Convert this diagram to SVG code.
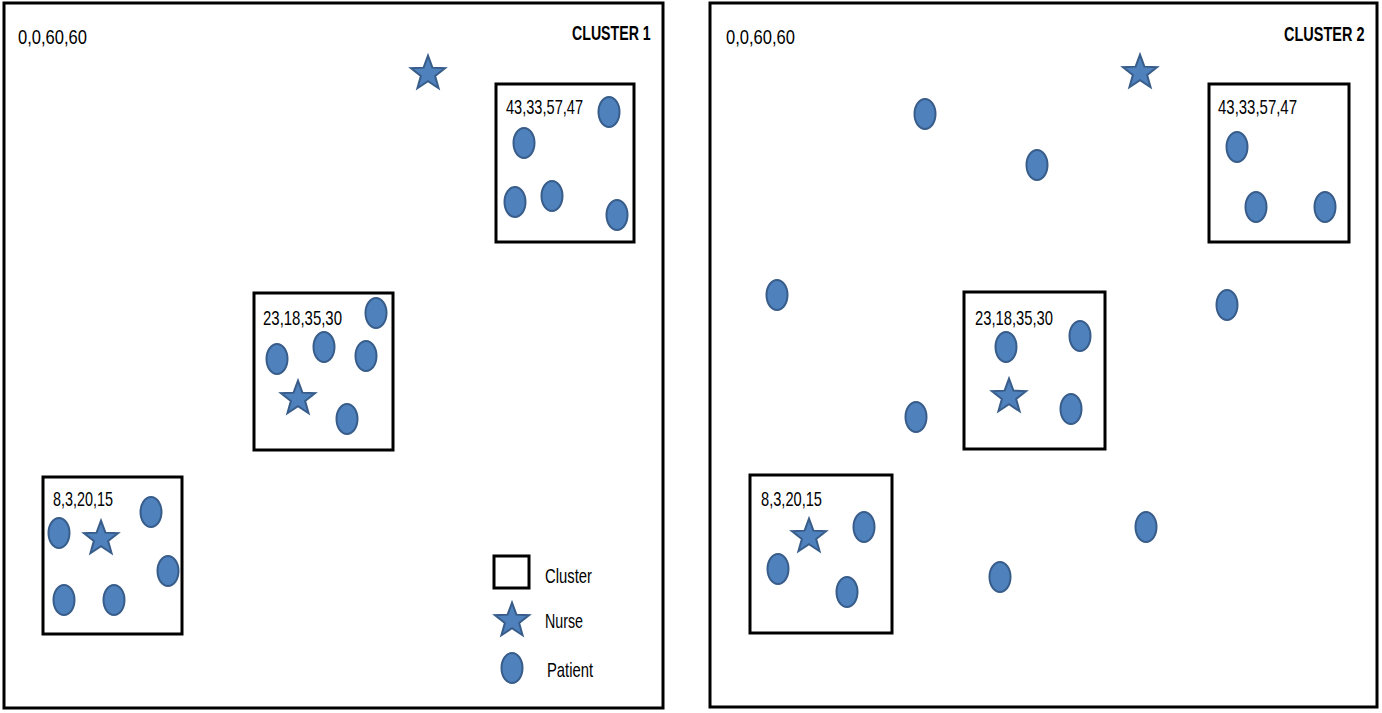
<svg xmlns="http://www.w3.org/2000/svg" xmlns:xlink="http://www.w3.org/1999/xlink" width="1382" height="713" viewBox="0 0 1382 713">
<style>
.frame{fill:#fff;stroke:#000;stroke-width:3}
.box{fill:none;stroke:#000;stroke-width:3}
.pt{fill:#4F81BD;stroke:#385D8A;stroke-width:2}
.lbl{font-family:"Liberation Sans",Arial,sans-serif;font-size:21px;fill:#000}
.title{font-family:"Liberation Sans",Arial,sans-serif;font-size:21px;font-weight:bold;fill:#000}
</style>
<defs>
<path id="star" class="pt" d="M0,-16.3 L4.41,-4.37 L17.12,-3.86 L7.13,4.02 L10.58,16.26 L0,9.2 L-10.58,16.26 L-7.13,4.02 L-17.12,-3.86 L-4.41,-4.37 Z"/>
<ellipse id="pat" class="pt" rx="10.5" ry="15"/>
</defs>
<rect width="1382" height="713" fill="#fff"/>

<g id="panel1">
<rect class="frame" x="4" y="3" width="659" height="705"/>
<text class="lbl" x="18" y="44" textLength="69" lengthAdjust="spacingAndGlyphs">0,0,60,60</text>
<text class="title" transform="translate(572,40) scale(0.675,1)" x="0" y="0">CLUSTER 1</text>
</g>
<g id="panel2">
<rect class="frame" x="710" y="3" width="667" height="704"/>
<text class="lbl" x="726" y="44" textLength="69" lengthAdjust="spacingAndGlyphs">0,0,60,60</text>
<text class="title" transform="translate(1284,41) scale(0.69,1)" x="0" y="0">CLUSTER 2</text>
</g>

<g id="c1-boxA">
<rect class="box" x="496" y="84" width="138" height="158"/>
<text class="lbl" x="506" y="114" textLength="77" lengthAdjust="spacingAndGlyphs">43,33,57,47</text>
<use xlink:href="#pat" x="609" y="112"/>
<use xlink:href="#pat" x="524" y="143"/>
<use xlink:href="#pat" x="515" y="202"/>
<use xlink:href="#pat" x="552" y="196"/>
<use xlink:href="#pat" x="617" y="215"/>
</g>
<g id="c1-nurse-free"><use xlink:href="#star" x="428" y="72"/></g>
<g id="c1-boxB">
<rect class="box" x="254" y="293" width="139" height="157"/>
<text class="lbl" x="263" y="325" textLength="79" lengthAdjust="spacingAndGlyphs">23,18,35,30</text>
<use xlink:href="#pat" x="376" y="313"/>
<use xlink:href="#pat" x="277" y="359"/>
<use xlink:href="#pat" x="324" y="347"/>
<use xlink:href="#pat" x="366" y="356"/>
<use xlink:href="#pat" x="347" y="419"/>
<use xlink:href="#star" x="298" y="397"/>
</g>
<g id="c1-boxC">
<rect class="box" x="43" y="477" width="139" height="157"/>
<text class="lbl" x="53" y="506" textLength="60" lengthAdjust="spacingAndGlyphs">8,3,20,15</text>
<use xlink:href="#pat" x="59" y="533"/>
<use xlink:href="#pat" x="151" y="512"/>
<use xlink:href="#pat" x="168" y="571"/>
<use xlink:href="#pat" x="64" y="600"/>
<use xlink:href="#pat" x="114" y="600"/>
<use xlink:href="#star" x="101" y="537"/>
</g>
<g id="legend">
<rect class="box" x="494" y="556" width="35" height="32"/>
<text class="lbl" x="545" y="583" textLength="47" lengthAdjust="spacingAndGlyphs">Cluster</text>
<use xlink:href="#star" x="512" y="619"/>
<text class="lbl" x="545" y="628" textLength="38" lengthAdjust="spacingAndGlyphs">Nurse</text>
<use xlink:href="#pat" x="512" y="668"/>
<text class="lbl" x="547" y="677" textLength="46" lengthAdjust="spacingAndGlyphs">Patient</text>
</g>

<g id="c2-free">
<use xlink:href="#pat" x="925" y="114"/>
<use xlink:href="#star" x="1140" y="71"/>
<use xlink:href="#pat" x="1037" y="165"/>
<use xlink:href="#pat" x="777" y="295"/>
<use xlink:href="#pat" x="916" y="417"/>
<use xlink:href="#pat" x="1227" y="305"/>
<use xlink:href="#pat" x="1000" y="577"/>
<use xlink:href="#pat" x="1146" y="527"/>
</g>
<g id="c2-boxA">
<rect class="box" x="1209" y="84" width="140" height="158"/>
<text class="lbl" x="1218" y="114" textLength="79" lengthAdjust="spacingAndGlyphs">43,33,57,47</text>
<use xlink:href="#pat" x="1237" y="147"/>
<use xlink:href="#pat" x="1256" y="207"/>
<use xlink:href="#pat" x="1325" y="207"/>
</g>
<g id="c2-boxB">
<rect class="box" x="964" y="292" width="141" height="157"/>
<text class="lbl" x="975" y="325" textLength="78" lengthAdjust="spacingAndGlyphs">23,18,35,30</text>
<use xlink:href="#pat" x="1006" y="347"/>
<use xlink:href="#pat" x="1080" y="336"/>
<use xlink:href="#pat" x="1071" y="409"/>
<use xlink:href="#star" x="1009" y="395"/>
</g>
<g id="c2-boxC">
<rect class="box" x="750" y="475" width="142" height="158"/>
<text class="lbl" x="761" y="506" textLength="61" lengthAdjust="spacingAndGlyphs">8,3,20,15</text>
<use xlink:href="#pat" x="778" y="569"/>
<use xlink:href="#pat" x="864" y="527"/>
<use xlink:href="#pat" x="847" y="592"/>
<use xlink:href="#star" x="809" y="535"/>
</g>
<g id="connectors"></g>
</svg>
